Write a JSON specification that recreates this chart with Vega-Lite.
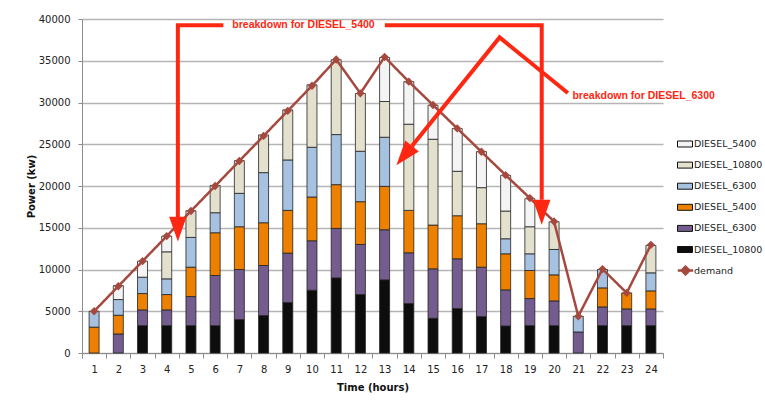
{
  "$schema": "https://vega.github.io/schema/vega-lite/v6.json",
  "width": 581,
  "height": 334,
  "autosize": {"type": "none"},
  "padding": {"left": 82, "top": 19, "right": 102, "bottom": 50},
  "background": "white",
  "config": {"view": {"stroke": null}, "font": "DejaVu Sans"},
  "datasets": {
    "gen": [
      {"hour": 1, "1 DIESEL_10800": 0, "2 DIESEL_6300": 0, "3 DIESEL_5400": 3100, "4 DIESEL_6300": 1900, "5 DIESEL_10800": 0, "6 DIESEL_5400": 0},
      {"hour": 2, "1 DIESEL_10800": 0, "2 DIESEL_6300": 2280, "3 DIESEL_5400": 2240, "4 DIESEL_6300": 1880, "5 DIESEL_10800": 0, "6 DIESEL_5400": 1680},
      {"hour": 3, "1 DIESEL_10800": 3280, "2 DIESEL_6300": 1880, "3 DIESEL_5400": 1960, "4 DIESEL_6300": 1960, "5 DIESEL_10800": 0, "6 DIESEL_5400": 1920},
      {"hour": 4, "1 DIESEL_10800": 3280, "2 DIESEL_6300": 1880, "3 DIESEL_5400": 1840, "4 DIESEL_6300": 1880, "5 DIESEL_10800": 3240, "6 DIESEL_5400": 1880},
      {"hour": 5, "1 DIESEL_10800": 3280, "2 DIESEL_6300": 3480, "3 DIESEL_5400": 3520, "4 DIESEL_6300": 3560, "5 DIESEL_10800": 3200, "6 DIESEL_5400": 0},
      {"hour": 6, "1 DIESEL_10800": 3280, "2 DIESEL_6300": 6000, "3 DIESEL_5400": 5120, "4 DIESEL_6300": 2400, "5 DIESEL_10800": 3280, "6 DIESEL_5400": 0},
      {"hour": 7, "1 DIESEL_10800": 4000, "2 DIESEL_6300": 6000, "3 DIESEL_5400": 5120, "4 DIESEL_6300": 4000, "5 DIESEL_10800": 3920, "6 DIESEL_5400": 0},
      {"hour": 8, "1 DIESEL_10800": 4480, "2 DIESEL_6300": 6000, "3 DIESEL_5400": 5120, "4 DIESEL_6300": 6000, "5 DIESEL_10800": 4520, "6 DIESEL_5400": 0},
      {"hour": 9, "1 DIESEL_10800": 6040, "2 DIESEL_6300": 5920, "3 DIESEL_5400": 5120, "4 DIESEL_6300": 6040, "5 DIESEL_10800": 6000, "6 DIESEL_5400": 0},
      {"hour": 10, "1 DIESEL_10800": 7520, "2 DIESEL_6300": 5920, "3 DIESEL_5400": 5240, "4 DIESEL_6300": 5960, "5 DIESEL_10800": 7480, "6 DIESEL_5400": 0},
      {"hour": 11, "1 DIESEL_10800": 9000, "2 DIESEL_6300": 5920, "3 DIESEL_5400": 5240, "4 DIESEL_6300": 6000, "5 DIESEL_10800": 8960, "6 DIESEL_5400": 0},
      {"hour": 12, "1 DIESEL_10800": 7000, "2 DIESEL_6300": 6000, "3 DIESEL_5400": 5120, "4 DIESEL_6300": 6040, "5 DIESEL_10800": 6920, "6 DIESEL_5400": 0},
      {"hour": 13, "1 DIESEL_10800": 8760, "2 DIESEL_6300": 6000, "3 DIESEL_5400": 5200, "4 DIESEL_6300": 5880, "5 DIESEL_10800": 4280, "6 DIESEL_5400": 5280},
      {"hour": 14, "1 DIESEL_10800": 5920, "2 DIESEL_6300": 6080, "3 DIESEL_5400": 5080, "4 DIESEL_6300": 0, "5 DIESEL_10800": 10320, "6 DIESEL_5400": 5100},
      {"hour": 15, "1 DIESEL_10800": 4160, "2 DIESEL_6300": 5920, "3 DIESEL_5400": 5240, "4 DIESEL_6300": 0, "5 DIESEL_10800": 10280, "6 DIESEL_5400": 4080},
      {"hour": 16, "1 DIESEL_10800": 5320, "2 DIESEL_6300": 5960, "3 DIESEL_5400": 5160, "4 DIESEL_6300": 0, "5 DIESEL_10800": 5320, "6 DIESEL_5400": 5120},
      {"hour": 17, "1 DIESEL_10800": 4360, "2 DIESEL_6300": 5920, "3 DIESEL_5400": 5200, "4 DIESEL_6300": 0, "5 DIESEL_10800": 4320, "6 DIESEL_5400": 4320},
      {"hour": 18, "1 DIESEL_10800": 3240, "2 DIESEL_6300": 4320, "3 DIESEL_5400": 4320, "4 DIESEL_6300": 1800, "5 DIESEL_10800": 3320, "6 DIESEL_5400": 4280},
      {"hour": 19, "1 DIESEL_10800": 3280, "2 DIESEL_6300": 3240, "3 DIESEL_5400": 3360, "4 DIESEL_6300": 2000, "5 DIESEL_10800": 3240, "6 DIESEL_5400": 3360},
      {"hour": 20, "1 DIESEL_10800": 3280, "2 DIESEL_6300": 2960, "3 DIESEL_5400": 3120, "4 DIESEL_6300": 3040, "5 DIESEL_10800": 3320, "6 DIESEL_5400": 0},
      {"hour": 21, "1 DIESEL_10800": 0, "2 DIESEL_6300": 2520, "3 DIESEL_5400": 0, "4 DIESEL_6300": 1880, "5 DIESEL_10800": 0, "6 DIESEL_5400": 0},
      {"hour": 22, "1 DIESEL_10800": 3280, "2 DIESEL_6300": 2240, "3 DIESEL_5400": 2280, "4 DIESEL_6300": 2200, "5 DIESEL_10800": 0, "6 DIESEL_5400": 0},
      {"hour": 23, "1 DIESEL_10800": 3280, "2 DIESEL_6300": 2000, "3 DIESEL_5400": 1920, "4 DIESEL_6300": 0, "5 DIESEL_10800": 0, "6 DIESEL_5400": 0},
      {"hour": 24, "1 DIESEL_10800": 3280, "2 DIESEL_6300": 2000, "3 DIESEL_5400": 2160, "4 DIESEL_6300": 2160, "5 DIESEL_10800": 3280, "6 DIESEL_5400": 0}
    ],
    "demand": [
      {"hour": 1, "demand": 5000, "series": "demand"}, {"hour": 2, "demand": 8000, "series": "demand"}, {"hour": 3, "demand": 11000, "series": "demand"},
      {"hour": 4, "demand": 14000, "series": "demand"}, {"hour": 5, "demand": 17000, "series": "demand"}, {"hour": 6, "demand": 20000, "series": "demand"},
      {"hour": 7, "demand": 23000, "series": "demand"}, {"hour": 8, "demand": 26000, "series": "demand"}, {"hour": 9, "demand": 29000, "series": "demand"},
      {"hour": 10, "demand": 32000, "series": "demand"}, {"hour": 11, "demand": 35150, "series": "demand"}, {"hour": 12, "demand": 31100, "series": "demand"},
      {"hour": 13, "demand": 35450, "series": "demand"}, {"hour": 14, "demand": 32500, "series": "demand"}, {"hour": 15, "demand": 29700, "series": "demand"},
      {"hour": 16, "demand": 26900, "series": "demand"}, {"hour": 17, "demand": 24100, "series": "demand"}, {"hour": 18, "demand": 21300, "series": "demand"},
      {"hour": 19, "demand": 18550, "series": "demand"}, {"hour": 20, "demand": 15750, "series": "demand"}, {"hour": 21, "demand": 4400, "series": "demand"},
      {"hour": 22, "demand": 10050, "series": "demand"}, {"hour": 23, "demand": 7200, "series": "demand"}, {"hour": 24, "demand": 12950, "series": "demand"}
    ],
    "annotLines": [
      {"seg": "a", "ord": 1, "h": 6.34, "v": 39250},
      {"seg": "a", "ord": 2, "h": 4.46, "v": 39250},
      {"seg": "a", "ord": 3, "h": 4.46, "v": 16300},
      {"seg": "b", "ord": 1, "h": 13.01, "v": 39250},
      {"seg": "b", "ord": 2, "h": 19.49, "v": 39250},
      {"seg": "b", "ord": 3, "h": 19.49, "v": 18350},
      {"seg": "c", "ord": 1, "h": 14.13, "v": 24790},
      {"seg": "c", "ord": 2, "h": 17.75, "v": 37800},
      {"seg": "c", "ord": 3, "h": 20.57, "v": 31140}
    ],
    "arrowV": [
      {"h": 4.46, "v": 14830},
      {"h": 19.49, "v": 16865}
    ],
    "arrowD": [
      {"h": 13.81, "v": 23630}
    ],
    "notes": [
      {"h": 9.65, "v": 39250, "label": "breakdown for DIESEL_5400", "pos": "center"},
      {"h": 20.76, "v": 30730, "label": "breakdown for DIESEL_6300", "pos": "left"}
    ]
  },
  "layer": [
    {
      "layer": [
        {
          "data": {"name": "gen"},
          "transform": [
            {"fold": ["1 DIESEL_10800", "2 DIESEL_6300", "3 DIESEL_5400", "4 DIESEL_6300", "5 DIESEL_10800", "6 DIESEL_5400"], "as": ["series", "value"]},
            {"filter": "datum.value > 0"}
          ],
          "mark": {"type": "bar", "size": 10, "stroke": "#222222", "strokeWidth": 0.8},
          "encoding": {
            "x": {
              "field": "hour", "type": "ordinal",
              "scale": {"paddingInner": 0, "paddingOuter": 0},
              "axis": {
                "title": "Time (hours)", "labelAngle": 0, "tickBand": "extent", "tickSize": 5,
                "domainColor": "#8c8c8c", "tickColor": "#8c8c8c", "labelFontSize": 10, "labelColor": "#222222",
                "labelPadding": 6, "titleFontWeight": "bold", "titleFontSize": 10, "titleColor": "#111111",
                "titlePadding": 8, "grid": false
              }
            },
            "y": {
              "field": "value", "type": "quantitative", "stack": "zero",
              "scale": {"domain": [0, 40000], "nice": false},
              "axis": {
                "title": "Power  (kw)", "values": [0, 5000, 10000, 15000, 20000, 25000, 30000, 35000, 40000],
                "format": "d", "grid": true, "gridColor": "#b5b5b5", "gridWidth": 1.5,
                "domainColor": "#8c8c8c", "tickColor": "#8c8c8c", "tickSize": 4, "labelFontSize": 10,
                "labelColor": "#222222", "labelPadding": 8, "titleFontWeight": "bold", "titleFontSize": 10,
                "titleColor": "#111111", "titlePadding": 2
              }
            },
            "color": {
              "field": "series", "type": "nominal",
              "scale": {
                "domain": ["6 DIESEL_5400", "5 DIESEL_10800", "4 DIESEL_6300", "3 DIESEL_5400", "2 DIESEL_6300", "1 DIESEL_10800"],
                "range": ["#f4f4f4", "#e3e0cd", "#a7c2e0", "#ee8000", "#745d8e", "#0d0d0d"]
              },
              "legend": {
                "title": null, "orient": "none", "legendX": 595, "legendY": 117, "padding": 0,
                "rowPadding": 8.1, "labelOffset": 1, "labelFontSize": 9.5, "labelColor": "#222222",
                "symbolType": "M-1,-0.4L1,-0.4L1,0.4L-1,0.4Z", "symbolSize": 225,
                "symbolStrokeColor": "#111111", "symbolStrokeWidth": 1,
                "labelExpr": "slice(datum.label, 2)"
              }
            },
            "order": {"field": "series", "sort": "ascending"}
          }
        },
        {
          "data": {"name": "demand"},
          "mark": {"type": "line", "strokeWidth": 2.5, "color": "#a5493f"},
          "encoding": {
            "x": {"field": "hour", "type": "ordinal"},
            "y": {"field": "demand", "type": "quantitative"},
            "strokeDash": {
              "field": "series", "type": "nominal",
              "scale": {"domain": ["demand"], "range": [[1, 0]]},
              "legend": {
                "title": null, "orient": "none", "legendX": 595, "legendY": 243, "padding": 0,
                "labelOffset": 0, "labelFontSize": 9.5, "labelColor": "#222222",
                "symbolType": "M-1.1,0L1.1,0M0,-0.55L0.55,0L0,0.55L-0.55,0Z", "symbolSize": 196,
                "symbolStrokeColor": "#a5493f", "symbolStrokeWidth": 2.5, "symbolFillColor": "#a5493f"
              }
            }
          }
        },
        {
          "data": {"name": "demand"},
          "mark": {"type": "point", "shape": "diamond", "filled": true, "size": 70, "opacity": 1, "color": "#a5493f"},
          "encoding": {
            "x": {"field": "hour", "type": "ordinal"},
            "y": {"field": "demand", "type": "quantitative"}
          }
        }
      ]
    },
    {
      "layer": [
        {
          "data": {"name": "annotLines"},
          "mark": {"type": "line", "color": "#fe2712", "strokeWidth": 4, "strokeJoin": "miter", "strokeCap": "butt"},
          "encoding": {
            "x": {"field": "h", "type": "quantitative", "scale": {"domain": [0.5, 24.5], "nice": false, "zero": false}, "axis": null},
            "y": {"field": "v", "type": "quantitative", "scale": {"domain": [0, 40000], "nice": false}, "axis": null},
            "detail": {"field": "seg"},
            "order": {"field": "ord"}
          }
        },
        {
          "data": {"name": "arrowV"},
          "mark": {"type": "point", "shape": "M-0.7,-1L0.7,-1L0,1Z", "filled": true, "color": "#fe2712", "size": 620, "opacity": 1},
          "encoding": {
            "x": {"field": "h", "type": "quantitative"},
            "y": {"field": "v", "type": "quantitative"}
          }
        },
        {
          "data": {"name": "arrowD"},
          "mark": {"type": "point", "shape": "M-0.7,-1L0.7,-1L0,1Z", "filled": true, "color": "#fe2712", "size": 620, "angle": 39, "opacity": 1},
          "encoding": {
            "x": {"field": "h", "type": "quantitative"},
            "y": {"field": "v", "type": "quantitative"}
          }
        },
        {
          "data": {"name": "notes"},
          "transform": [{"filter": "datum.pos === 'center'"}],
          "mark": {"type": "text", "align": "center", "baseline": "middle", "font": "Liberation Sans", "fontWeight": "bold", "fontSize": 10.5, "color": "#fe2712"},
          "encoding": {
            "x": {"field": "h", "type": "quantitative"},
            "y": {"field": "v", "type": "quantitative"},
            "text": {"field": "label"}
          }
        },
        {
          "data": {"name": "notes"},
          "transform": [{"filter": "datum.pos === 'left'"}],
          "mark": {"type": "text", "align": "left", "baseline": "middle", "font": "Liberation Sans", "fontWeight": "bold", "fontSize": 10.5, "color": "#fe2712"},
          "encoding": {
            "x": {"field": "h", "type": "quantitative"},
            "y": {"field": "v", "type": "quantitative"},
            "text": {"field": "label"}
          }
        }
      ]
    }
  ],
  "resolve": {"scale": {"x": "independent", "y": "independent"}}
}
